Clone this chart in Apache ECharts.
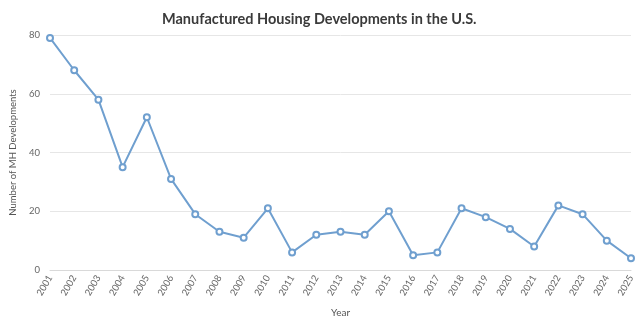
<!DOCTYPE html>
<html><head><meta charset="utf-8">
<script src="https://cdn.jsdelivr.net/npm/echarts@6/dist/echarts.min.js"></script>
<style>html,body{margin:0;padding:0;background:#fff}#c{width:640px;height:324px}</style>
</head><body><div id="c"></div>
<script>
const years = ['2001','2002','2003','2004','2005','2006','2007','2008','2009','2010','2011','2012','2013','2014','2015','2016','2017','2018','2019','2020','2021','2022','2023','2024','2025'];
const developments = [79,68,58,35,52,31,19,13,11,21,6,12,13,12,20,5,6,21,18,14,8,22,19,10,4];
const yTicks = [0,20,40,60,80];

const chart = echarts.init(document.getElementById('c'), null, {renderer:'canvas'});
chart.setOption({
  animation:false,
  title:{text:'Manufactured Housing Developments in the U.S.', left:157, top:7,
    textStyle:{fontFamily:'Lato', fontSize:14.5, fontWeight:'bold', color:'#3a3a3a'}},
  grid:{left:50, right:9, top:35, bottom:54, outerBoundsMode:'none', containLabel:false},
  xAxis:{type:'category', data:years, boundaryGap:false,
    name:'Year', nameLocation:'middle', nameGap:38,
    nameTextStyle:{fontFamily:'Lato', fontSize:10, color:'#555'},
    axisLine:{lineStyle:{color:'#d9d9d9'}}, axisTick:{show:false},
    axisLabel:{rotate:60, fontFamily:'Lato', fontSize:9.5, color:'#666', margin:6, interval:0}},
  yAxis:{type:'value', min:yTicks[0], max:yTicks[yTicks.length-1], interval:20,
    name:'Number of MH Developments', nameLocation:'middle', nameGap:31, nameRotate:90,
    nameTextStyle:{fontFamily:'Lato', fontSize:9.5, color:'#555'},
    axisLine:{show:false}, axisTick:{show:false},
    axisLabel:{fontFamily:'Lato', fontSize:9.5, color:'#666', margin:10},
    splitLine:{lineStyle:{color:'#e6e6e6'}}},
  series:[{type:'line', data:developments, symbol:'emptyCircle', symbolSize:6,
    lineStyle:{color:'#6f9fcf', width:2}, itemStyle:{color:'#6f9fcf', borderWidth:1.5}}]
});
</script></body></html>
